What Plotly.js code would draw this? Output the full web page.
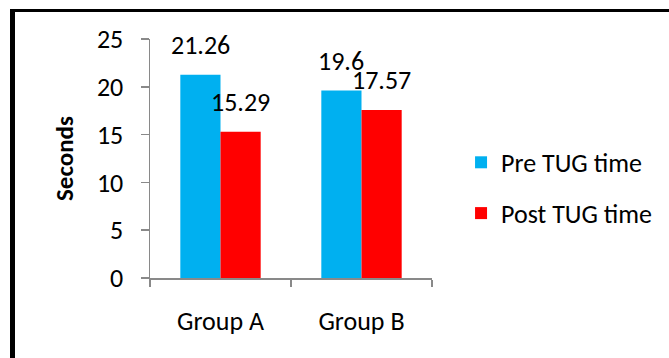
<!DOCTYPE html>
<html>
<head>
<meta charset="utf-8">
<script src="https://cdn.plot.ly/plotly-3.0.1.min.js"></script>
<style>
  html, body { margin: 0; padding: 0; background: #ffffff; overflow: hidden; }
  #chart { position: absolute; left: 0; top: 0; width: 669px; height: 358px; }
  #frame { position: absolute; left: 10px; top: 9px; width: 800px; height: 500px;
           border-left: 5px solid #000; border-top: 3px solid #000; pointer-events: none; }
</style>
</head>
<body>
<div id="chart"></div>
<div id="frame"></div>
<script>
const categories = ["Group A", "Group B"];
const seriesNames = ["Pre TUG time", "Post TUG time"];
const preValues = [21.26, 19.6];
const postValues = [15.29, 17.57];
const preLabels = ["21.26", "19.6"];
const postLabels = ["15.29", "17.57"];
const yTicks = [0, 5, 10, 15, 20, 25];

const colors = ["#00B0F0", "#FF0000"];
const FONT = "Carlito, Calibri, Lato, sans-serif";
const FS = 26;
const W = 669, H = 358;
const margin = {l: 150, r: 237, t: 39, b: 80};
const bargap = 0.43;

const seriesValues = [preValues, postValues];
const seriesLabels = [preLabels, postLabels];

const traces = seriesValues.map((vals, i) => ({
  type: "bar",
  name: seriesNames[i],
  x: categories,
  y: vals,
  marker: {color: colors[i]},
  legendgroup: "g" + i,
  hoverinfo: "skip"
}));

const plotW = W - margin.l - margin.r;
const barPx = plotW / categories.length * (1 - bargap) / seriesValues.length;

const annotations = [];
seriesValues.forEach((vals, i) => {
  vals.forEach((v, j) => {
    annotations.push({
      x: categories[j], y: v, xref: "x", yref: "y",
      text: seriesLabels[i][j],
      showarrow: false,
      xanchor: "center", yanchor: "bottom",
      xshift: (i - (seriesValues.length - 1) / 2) * barPx,
      yshift: 12,
      font: {family: FONT, size: FS, color: "#000"}
    });
  });
});

const axisColor = "#898989";
const layout = {
  width: W, height: H,
  margin: margin,
  paper_bgcolor: "rgba(0,0,0,0)",
  plot_bgcolor: "rgba(0,0,0,0)",
  barmode: "group",
  bargap: bargap,
  bargroupgap: 0,
  showlegend: true,
  font: {family: FONT, size: FS, color: "#000"},
  xaxis: {
    type: "category",
    showline: true, linecolor: axisColor, linewidth: 1.5,
    ticks: "outside", ticklen: 7, tickcolor: axisColor, tickwidth: 1.5,
    tickson: "boundaries",
    showgrid: false, zeroline: false,
    tickfont: {family: FONT, size: FS, color: "#000"},
    ticklabelstandoff: 19
  },
  yaxis: {
    range: [0, 25],
    tickvals: yTicks,
    ticktext: yTicks.map(String),
    showline: true, linecolor: axisColor, linewidth: 1.5,
    ticks: "outside", ticklen: 8, tickcolor: axisColor, tickwidth: 1.5,
    showgrid: false, zeroline: false,
    tickfont: {family: FONT, size: FS, color: "#000"},
    ticklabelstandoff: 12,
    title: {text: "<b>Seconds</b>", font: {family: FONT, size: 25, color: "#000"}, standoff: 16}
  },
  legend: {
    x: 1.103, xanchor: "left",
    y: 0.377, yanchor: "middle",
    font: {family: FONT, size: FS, color: "#000"},
    traceorder: "grouped",
    tracegroupgap: 14,
    bgcolor: "rgba(0,0,0,0)"
  },
  annotations: annotations
};

Plotly.newPlot("chart", traces, layout, {displayModeBar: false, staticPlot: true});
</script>
</body>
</html>
